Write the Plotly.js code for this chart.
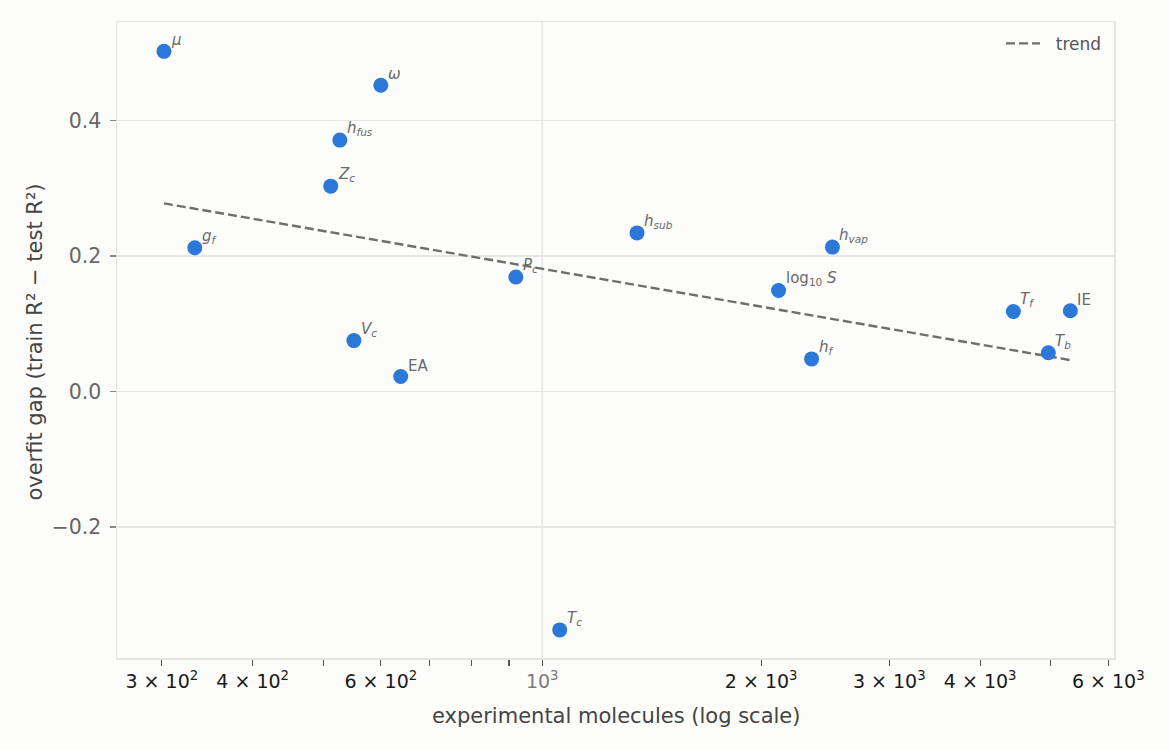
<!DOCTYPE html>
<html>
<head>
<meta charset="utf-8">
<script src="https://cdn.plot.ly/plotly-3.0.1.min.js"></script>
<style>
  html, body { margin: 0; padding: 0; background: #fcfcfa; }
  #chart { width: 1170px; height: 750px; }
</style>
</head>
<body>
<div id="chart"></div>
<script>
// Properties and their overfit gap vs. number of experimental molecules
const properties = ['mu', 'omega', 'h_fus', 'Z_c', 'g_f', 'V_c', 'EA', 'P_c', 'T_c',
                    'h_sub', 'log10_S', 'h_f', 'h_vap', 'T_f', 'T_b', 'IE'];
const labels = ['<i>μ</i>', '<i>ω</i>', '<i>h<sub>fus</sub></i>', '<i>Z<sub>c</sub></i>',
                '<i>g<sub>f</sub></i>', '<i>V<sub>c</sub></i>', 'EA', '<i>P<sub>c</sub></i>',
                '<i>T<sub>c</sub></i>', '<i>h<sub>sub</sub></i>', 'log<sub>10</sub> <i>S</i>',
                '<i>h<sub>f</sub></i>', '<i>h<sub>vap</sub></i>', '<i>T<sub>f</sub></i>',
                '<i>T<sub>b</sub></i>', 'IE'];
const molecules = [302, 600, 527, 512, 333, 551, 639, 920, 1057,
                   1350, 2113, 2346, 2506, 4443, 4963, 5321];
const overfitGap = [0.502, 0.452, 0.371, 0.303, 0.212, 0.075, 0.022, 0.169, -0.352,
                    0.234, 0.149, 0.048, 0.213, 0.118, 0.057, 0.119];

// Trend line end points (linear in log10 of molecule count)
const trendX = [302, 5321];
const trendY = [0.2776, 0.0462];

// Axis ticks
const xTickVals = [300, 400, 500, 600, 700, 800, 900, 1000, 2000, 3000, 4000, 5000, 6000];
const xTickText = ['3 × 10<sup>2</sup>', '4 × 10<sup>2</sup>', '', '6 × 10<sup>2</sup>', '', '', '',
                   '<span style="color:#7a7a7a">10<sup>3</sup></span>',
                   '2 × 10<sup>3</sup>', '3 × 10<sup>3</sup>', '4 × 10<sup>3</sup>', '',
                   '6 × 10<sup>3</sup>'];
const xGridAt = [1000];
const yTickVals = [-0.2, 0.0, 0.2, 0.4];
const yTickText = ['−0.2', '0.0', '0.2', '0.4'];

const FONT = 'DejaVu Sans, sans-serif';
const BG = '#fcfcfa';

const points = {
  type: 'scatter',
  mode: 'markers',
  x: molecules,
  y: overfitGap,
  marker: { color: '#2b78d8', size: 15, line: { width: 0 } },
  showlegend: false,
  hoverinfo: 'skip'
};

const trend = {
  type: 'scatter',
  mode: 'lines',
  name: '\u00a0\u00a0trend',
  x: trendX,
  y: trendY,
  line: { color: '#6e6e6e', width: 2.4, dash: '9px,4px' },
  hoverinfo: 'skip'
};

const annotations = molecules.map((m, i) => ({
  x: Math.log10(m),
  y: overfitGap[i],
  xref: 'x',
  yref: 'y',
  text: labels[i],
  showarrow: false,
  xanchor: 'left',
  yanchor: 'bottom',
  xshift: 5,
  yshift: 0,
  font: { family: FONT, size: 15, color: '#6a6a6a' }
}));

annotations.push({
  xref: 'paper', yref: 'paper', x: 0.5, y: -0.091,
  xanchor: 'center', yanchor: 'middle', showarrow: false,
  text: 'experimental molecules (log scale)',
  font: { family: FONT, size: 21, color: '#444444' }
});
annotations.push({
  xref: 'paper', yref: 'paper', x: -0.0832, y: 0.496,
  xanchor: 'center', yanchor: 'middle', showarrow: false, textangle: -90,
  text: 'overfit gap (train R² − test R²)',
  font: { family: FONT, size: 21, color: '#444444' }
});

const shapes = xGridAt.map(v => ({
  type: 'line', layer: 'below',
  xref: 'x', yref: 'paper',
  x0: v, x1: v, y0: 0, y1: 1,
  line: { color: '#e6e6e6', width: 1.5 }
}));

const layout = {
  width: 1170,
  height: 750,
  paper_bgcolor: BG,
  plot_bgcolor: BG,
  margin: { l: 117, r: 56, t: 22, b: 92 },
  font: { family: FONT },
  xaxis: {
    type: 'log',
    range: [2.4155, 3.786],
    tickmode: 'array',
    tickvals: xTickVals,
    ticktext: xTickText,
    tickfont: { family: FONT, size: 19, color: '#1a1a1a' },
    ticks: 'outside',
    ticklen: 6,
    tickwidth: 1.2,
    tickcolor: '#555555',
    showgrid: false,
    zeroline: false,
    showline: true,
    mirror: true,
    linecolor: '#e4e4e4',
    linewidth: 1.5
  },
  yaxis: {
    range: [-0.3935, 0.5453],
    tickmode: 'array',
    tickvals: yTickVals,
    ticktext: yTickText,
    tickfont: { family: FONT, size: 20.5, color: '#666666' },
    ticks: 'outside',
    ticklen: 6,
    tickwidth: 1.2,
    tickcolor: '#888888',
    ticklabelstandoff: 4,
    showgrid: true,
    gridcolor: '#e6e6e6',
    gridwidth: 1.5,
    zeroline: false,
    showline: true,
    mirror: true,
    linecolor: '#e4e4e4',
    linewidth: 1.5
  },
  legend: {
    x: 0.993, y: 0.994, xanchor: 'right', yanchor: 'top',
    bgcolor: 'rgba(0,0,0,0)',
    itemwidth: 34,
    font: { family: FONT, size: 17, color: '#555555' }
  },
  showlegend: true,
  annotations: annotations,
  shapes: shapes
};

Plotly.newPlot('chart', [trend, points], layout, { displayModeBar: false, staticPlot: true });
</script>
</body>
</html>
